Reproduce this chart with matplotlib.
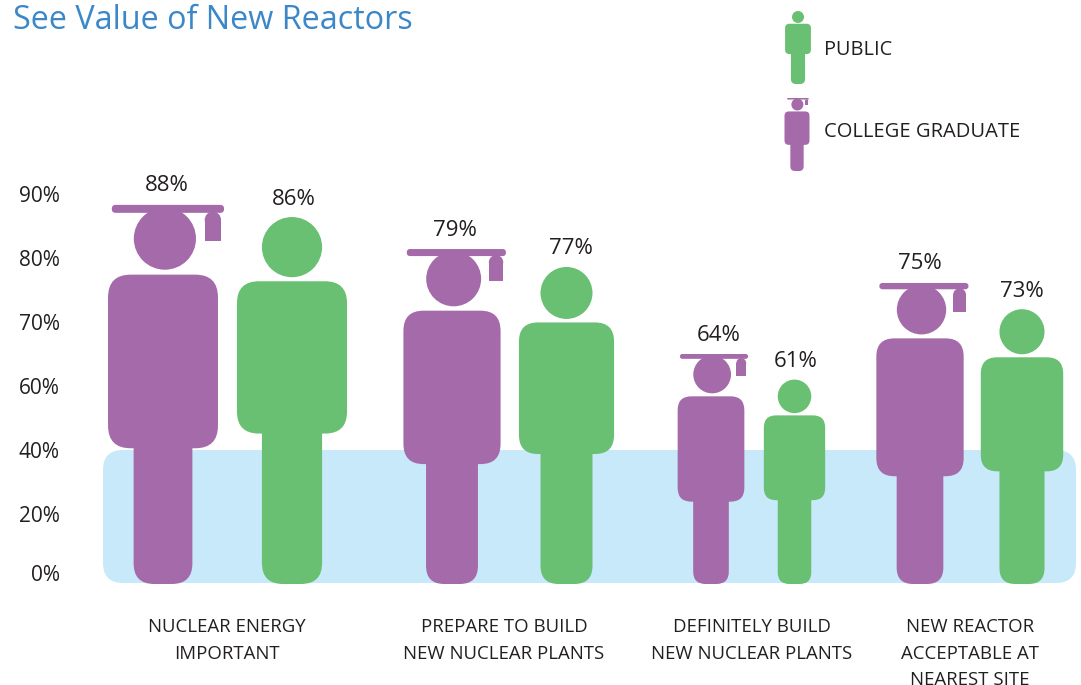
import numpy as np
from matplotlib import pyplot as plt
from matplotlib.patches import Circle, FancyBboxPatch, Rectangle
from matplotlib.transforms import Affine2D

plt.rcParams['font.family'] = ['Open Sans', 'DejaVu Sans']

categories = ['NUCLEAR ENERGY\nIMPORTANT', 'PREPARE TO BUILD\nNEW NUCLEAR PLANTS',
              'DEFINITELY BUILD\nNEW NUCLEAR PLANTS', 'NEW REACTOR\nACCEPTABLE AT\nNEAREST SITE']
graduate = [88, 79, 64, 75]
public = [86, 77, 61, 73]
# how tall the figures are really drawn against the axis
graduate_drawn = [88.3, 81.4, 65, 76.1]
public_drawn = [86.4, 78.6, 61, 72]
tick_values = [0, 20, 40, 60, 70, 80, 90]
band_top = 40

graduate_x = [163, 452, 711, 920]
public_x = [292, 566.5, 794.5, 1022]
graduate_label_x = [167, 455, 719, 920]
public_label_x = [294, 571, 796, 1022]
category_x = [227, 504, 752, 970]

PURPLE = '#a46aaa'
GREEN = '#69c072'
BLUE = '#c7e9f9'
TEXT = '#231f20'

# the printed axis is not even: 60-90 is stretched compared to 0-60
scale_values = [-19, 0, 20, 40, 60, 70, 80, 90, 120.3]
scale_pixels = [0, 112, 171, 235, 299, 363, 427, 491, 685]


def forward(v):
    return np.interp(v, scale_values, scale_pixels)


def inverse(p):
    return np.interp(p, scale_pixels, scale_values)


fig = plt.figure(figsize=(10.81, 6.85), dpi=100)
ax = fig.add_axes([0, 0, 1, 1])
ax.set_xlim(0, 1081)
ax.set_yscale('function', functions=(forward, inverse))
ax.set_ylim(-19, 120.3)
for s in ax.spines.values():
    s.set_visible(False)
ax.set_xticks([])
ax.set_yticks(tick_values)
ax.set_yticklabels(['%d%%' % t for t in tick_values], fontsize=15, color=TEXT)
ax.yaxis.set_minor_locator(plt.NullLocator())
ax.tick_params(axis='y', length=0, pad=-43)

# pixel space, y going down, so the round shapes stay round on the uneven axis
px = Affine2D().scale(1, -1).translate(0, 685)


def to_px(v):
    return 685 - ax.transData.transform((0, v))[1]


def rbox(x0, y0, x1, y1, r, color, z=3):
    ax.add_patch(FancyBboxPatch((x0, y0), x1 - x0, y1 - y0, boxstyle='round,pad=0,rounding_size=%f' % r,
                                fc=color, ec='none', transform=px, zorder=z))


def person(x, top, bottom, color, hat=False, fat=1.0):
    h = bottom - top
    if hat:
        body_top, body_bot, head_y = .184, .642, .089
        shift = .005
        bw = .29 * fat * h / 2
        lw = .155 * fat * h / 2
    else:
        body_top, body_bot, head_y = .175, .59, .082
        shift = 0
        bw = .30 * fat * h / 2
        lw = .164 * fat * h / 2
    # leg first, then the body over it
    rbox(x - lw, top + h * (body_bot - .1), x + lw, bottom, lw * .7, color)
    rbox(x - bw, top + h * body_top, x + bw, top + h * body_bot, h * .06, color)
    ax.add_patch(Circle((x + shift * h, top + h * head_y), h * .082, fc=color, ec='none', transform=px, zorder=3))
    if hat:
        cx = x + h * .013
        rbox(cx - h * .148, top, cx + h * .148, top + h * .021, h * .01, color, 4)
        tx0, tx1 = x + h * .11, x + h * .153
        r = (tx1 - tx0) / 2
        ax.add_patch(Circle(((tx0 + tx1) / 2, top + h * .018 + r), r, fc=color, ec='none', transform=px, zorder=3))
        ax.add_patch(Rectangle((tx0, top + h * .018 + r), tx1 - tx0, h * .077 - r, fc=color, ec='none',
                               transform=px, zorder=3))


baseline = 584
rbox(103, to_px(band_top), 1076, 583, 20, BLUE, 1)

for x, lx, v, d in zip(graduate_x, graduate_label_x, graduate, graduate_drawn):
    person(x, to_px(d), baseline, PURPLE, hat=True)
    ax.text(lx, to_px(d) - 19, '%d%%' % v, transform=px, ha='center', va='center', fontsize=16, color=TEXT)
for x, lx, v, d in zip(public_x, public_label_x, public, public_drawn):
    person(x, to_px(d), baseline, GREEN)
    ax.text(lx, to_px(d) - 18, '%d%%' % v, transform=px, ha='center', va='center', fontsize=16, color=TEXT)

for x, c in zip(category_x, categories):
    ax.text(x, 618, c, transform=px, ha='center', va='top', fontsize=13.4, color=TEXT, linespacing=1.62,
            multialignment='center')

# legend
person(798, 11, 84, GREEN, fat=1.18)
person(797, 98, 171, PURPLE, hat=True, fat=1.18)
ax.text(824, 50, 'PUBLIC', transform=px, va='center', fontsize=14.3, color=TEXT)
ax.text(824, 132, 'COLLEGE GRADUATE', transform=px, va='center', fontsize=14.5, color=TEXT)

ax.text(13, 29, 'See Value of New Reactors', transform=px, va='baseline', fontsize=23.3, color='#3b87c8')

fig.savefig('out.png', dpi=100)
